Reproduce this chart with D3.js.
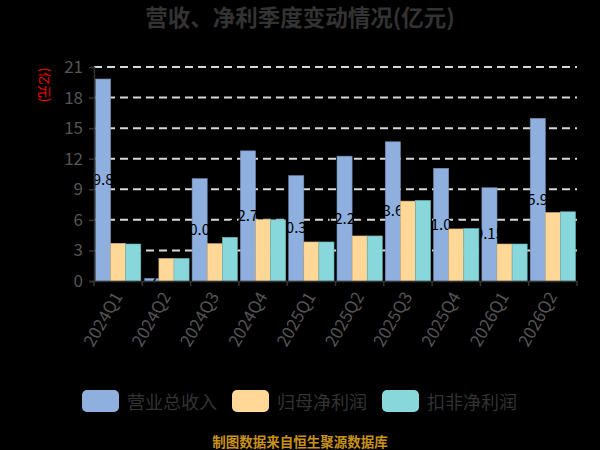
<!DOCTYPE html>
<html>
<head>
<meta charset="utf-8">
<script src="https://cdn.jsdelivr.net/npm/d3@7"></script>
<style>
html,body{margin:0;padding:0;background:#000;}
svg{display:block;}
text{font-family:"Noto Sans CJK SC","Noto Sans",sans-serif;}
</style>
</head>
<body>
<svg id="chart" width="600" height="450"></svg>
<script>
const categories = ["2024Q1","2024Q2","2024Q3","2024Q4","2025Q1","2025Q2","2025Q3","2025Q4","2026Q1","2026Q2"];
const revenue   = [19.82, 0.25, 10.04, 12.77, 10.34, 12.25, 13.66, 11.06, 9.15, 15.96];
const netProfit = [3.70, 2.22, 3.67, 6.03, 3.83, 4.42, 7.84, 5.11, 3.63, 6.72];
const deductNP  = [3.63, 2.22, 4.29, 6.01, 3.83, 4.42, 7.91, 5.15, 3.63, 6.79];
const seriesNames = ["营业总收入","归母净利润","扣非净利润"];
const colors = ["#8FB0DE","#FFD898","#88D8DB"];
const yTicks = [0,3,6,9,12,15,18,21];
const title = "营收、净利季度变动情况(亿元)";
const yName = "(亿元)";
const footer = "制图数据来自恒生聚源数据库";

const svg = d3.select("#chart");
const plotL = 94, plotR = 577, plotT = 67, plotB = 281;

const x = d3.scaleBand().domain(categories).range([plotL, plotR]).paddingInner(0).paddingOuter(0);
const xs = d3.scaleBand().domain([0,1,2]).range([0, x.bandwidth()]).paddingOuter(0.1).paddingInner(0);
const y = d3.scaleLinear().domain([0, 21]).range([plotB, plotT]);

// title
svg.append("text").attr("x", 300).attr("y", 26).attr("text-anchor","middle")
  .attr("font-size", 22.5).attr("font-weight","bold").attr("fill","#333").text(title);

// gridlines
svg.append("g").selectAll("line").data(yTicks.filter(d=>d>0)).join("line")
  .attr("x1", plotL).attr("x2", plotR).attr("y1", d=>y(d)).attr("y2", d=>y(d))
  .attr("stroke","#d8d8d8").attr("stroke-width",2).attr("stroke-dasharray","8,5");

// bars
const data = [revenue, netProfit, deductNP];
const g = svg.append("g");
function drawSeries(si) {
  g.append("g").selectAll("rect").data(data[si]).join("rect")
    .attr("x", (d,i) => x(categories[i]) + xs(si))
    .attr("y", d => y(d))
    .attr("width", xs.bandwidth())
    .attr("height", d => y(0) - y(d))
    .attr("fill", colors[si])
    .attr("stroke", d3.color(colors[si]).darker(0.6))
    .attr("stroke-width", 0.6);
}
drawSeries(0);
// revenue labels (black, inside middle), drawn beneath the other series
g.append("g").selectAll("text").data(revenue).join("text")
  .attr("x", (d,i) => x(categories[i]) + xs(0) + xs.bandwidth()/2)
  .attr("y", d => (y(d) + y(0))/2 + 5)
  .attr("text-anchor","middle").attr("font-size", 15).attr("fill","#000")
  .text(d => d.toFixed(2));
drawSeries(1);
drawSeries(2);

// y axis
const yAxis = svg.append("g").attr("transform", `translate(${plotL},0)`)
  .call(d3.axisLeft(y).tickValues(yTicks).tickSize(5).tickPadding(6).tickFormat(d3.format("d")));
yAxis.select(".domain").attr("stroke","#333").attr("stroke-width",1.5);
yAxis.selectAll(".tick line").attr("stroke","#333").attr("stroke-width",1.5);
yAxis.selectAll(".tick text").attr("font-size",17).attr("fill","#555")
  .attr("font-family","'Noto Sans CJK SC','Noto Sans',sans-serif");

// x axis
const xAxis = svg.append("g").attr("transform", `translate(0,${plotB})`)
  .call(d3.axisBottom(x).tickSize(0).tickFormat(""));
xAxis.select(".domain").attr("stroke","#333").attr("stroke-width",1.5);
const bounds = categories.map(c => x(c)).concat([plotR]);
xAxis.selectAll(".bt").data(bounds).join("line").attr("class","bt")
  .attr("x1", d=>d).attr("x2", d=>d).attr("y1",0).attr("y2",5)
  .attr("stroke","#333").attr("stroke-width",1.5);
svg.append("g").selectAll("text").data(categories).join("text")
  .attr("transform", d => `translate(${x(d)+x.bandwidth()/2+1},${plotB+13}) rotate(-60)`)
  .attr("text-anchor","end").attr("dominant-baseline","middle")
  .attr("font-size",17).attr("fill","#555").text(d=>d);

// y name
svg.append("text").attr("transform","translate(44,85) rotate(90)")
  .attr("text-anchor","middle").attr("dominant-baseline","middle")
  .attr("font-size",13).attr("fill","#ff0000").text(yName);

// legend
const legX = [82, 232, 382];
const lg = svg.append("g").selectAll("g").data(seriesNames).join("g")
  .attr("transform",(d,i)=>`translate(${legX[i]},390)`);
lg.append("rect").attr("width",37).attr("height",22).attr("rx",5)
  .attr("fill",(d,i)=>colors[i]);
lg.append("text").attr("x",45).attr("y",11).attr("dominant-baseline","central")
  .attr("font-size",18).attr("fill","#333").text(d=>d);

// footer
svg.append("text").attr("x",300).attr("y",441).attr("text-anchor","middle")
  .attr("dominant-baseline","central").attr("font-size",13.5).attr("font-weight","bold")
  .attr("fill","#C8921A").text(footer);
</script>
</body>
</html>
